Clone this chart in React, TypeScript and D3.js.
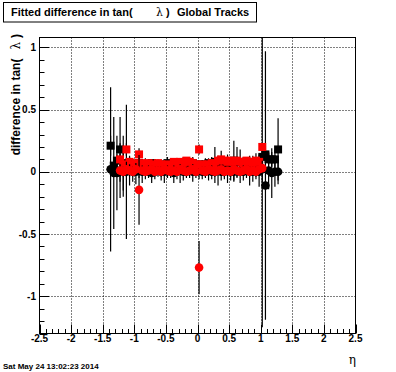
import * as d3 from 'd3';

// eta bin centres
const eta = [
  -1.375, -1.325, -1.275, -1.225, -1.175, -1.125, -1.075, -1.025, -0.975, -0.925,
  -0.875, -0.825, -0.775, -0.725, -0.675, -0.625, -0.575, -0.525, -0.475, -0.425,
  -0.375, -0.325, -0.275, -0.225, -0.175, -0.125, -0.075, -0.025, 0.025, 0.075,
  0.125, 0.175, 0.225, 0.275, 0.325, 0.375, 0.425, 0.475, 0.525, 0.575,
  0.625, 0.675, 0.725, 0.775, 0.825, 0.875, 0.925, 0.975, 1.025, 1.075,
  1.125, 1.175, 1.225, 1.275,
];

// black squares
const blackSq = [
  0.21, 0.05, 0.09, 0.18, 0.07, 0.06, 0.07, 0.05, 0.06, 0.07,
  0.05, 0.06, 0.05, 0.07, 0.06, 0.05, 0.06, 0.05, 0.07, 0.06,
  0.05, 0.06, 0.04, 0.06, 0.05, 0.06, 0.07, 0.05, 0.06, 0.05,
  0.06, 0.07, 0.06, 0.08, 0.06, 0.07, 0.06, 0.08, 0.07, 0.09,
  0.08, 0.08, 0.07, 0.06, 0.07, 0.08, 0.07, 0.08, 0.12, 0.14,
  0.10, 0.10, 0.10, 0.18,
];
const blackSqErr = [
  0.08, 0.06, 0.05, 0.26, 0.22, 0.05, 0.04, 0.05, 0.03, 0.04,
  0.03, 0.05, 0.04, 0.03, 0.04, 0.05, 0.03, 0.04, 0.05, 0.03,
  0.04, 0.03, 0.05, 0.06, 0.04, 0.03, 0.05, 0.04, 0.03, 0.04,
  0.05, 0.04, 0.06, 0.12, 0.05, 0.10, 0.04, 0.06, 0.05, 0.16,
  0.12, 0.10, 0.05, 0.04, 0.06, 0.05, 0.08, 0.06, 0.07, 0.07,
  0.05, 0.06, 0.08, 0.25,
];

// black circles
const blackCi = [
  0.02, -0.01, -0.01, 0.01, 0.00, 0.00, 0.01, 0.00, 0.00, 0.01,
  0.00, 0.01, 0.00, -0.01, 0.00, 0.01, 0.00, 0.00, 0.01, 0.00,
  -0.01, 0.00, 0.01, 0.00, 0.00, 0.01, 0.00, 0.00, 0.01, 0.00,
  0.00, 0.01, 0.00, 0.00, 0.01, 0.00, 0.00, 0.01, 0.00, 0.00,
  0.01, 0.00, 0.00, 0.01, 0.00, 0.00, 0.01, 0.00, 0.02, -0.11,
  0.01, -0.01, 0.00, 0.00,
];
const blackCiErr = [
  0.66, 0.45, 0.30, 0.22, 0.20, 0.54, 0.12, 0.08, 0.10, 0.06,
  0.09, 0.07, 0.05, 0.08, 0.06, 0.05, 0.07, 0.09, 0.06, 0.05,
  0.08, 0.06, 0.10, 0.07, 0.05, 0.06, 0.08, 0.05, 0.07, 0.06,
  0.05, 0.08, 0.06, 0.09, 0.12, 0.07, 0.06, 0.10, 0.07, 0.08,
  0.06, 0.09, 0.07, 0.06, 0.11, 0.08, 0.07, 0.12, 0.10, 1.08,
  0.15, 0.20, 0.12, 0.10,
];

// red squares
const redSq = [
  null, null, null, 0.10, 0.06, 0.18, 0.08, 0.06, 0.07, 0.14,
  0.07, 0.06, 0.07, 0.05, 0.06, 0.07, 0.06, 0.05, 0.06, 0.05,
  0.08, 0.07, 0.08, 0.07, 0.09, 0.08, 0.07, 0.06, 0.18, 0.06,
  0.05, 0.06, 0.07, 0.06, 0.09, 0.10, 0.09, 0.08, 0.09, 0.08,
  0.09, 0.08, 0.07, 0.09, 0.08, 0.07, 0.09, 0.08, 0.20, null,
  null, null, null, null,
];
const redSqErr = [
  null, null, null, 0.04, 0.03, 0.05, 0.04, 0.03, 0.03, 0.05,
  0.03, 0.02, 0.03, 0.02, 0.03, 0.02, 0.03, 0.02, 0.03, 0.02,
  0.03, 0.02, 0.03, 0.02, 0.03, 0.02, 0.03, 0.02, 0.04, 0.02,
  0.03, 0.02, 0.03, 0.02, 0.03, 0.02, 0.03, 0.02, 0.03, 0.02,
  0.03, 0.02, 0.03, 0.02, 0.03, 0.02, 0.03, 0.02, 1.45, null,
  null, null, null, null,
];

// red circles
const redCi = [
  null, null, null, 0.01, 0.00, 0.02, 0.01, 0.00, 0.02, -0.145,
  0.01, 0.00, 0.01, 0.02, 0.00, 0.01, 0.00, 0.02, 0.01, 0.00,
  0.01, 0.00, 0.02, 0.01, 0.00, 0.01, 0.02, 0.00, -0.77, 0.01,
  0.00, 0.02, 0.01, 0.00, 0.01, 0.02, 0.00, 0.01, 0.00, 0.02,
  0.01, 0.00, 0.01, 0.02, 0.00, 0.01, 0.00, 0.02, 0.03, null,
  null, null, null, null,
];
const redCiErr = [
  null, null, null, 0.05, 0.04, 0.06, 0.05, 0.04, 0.05, 0.28,
  0.04, 0.03, 0.04, 0.03, 0.04, 0.03, 0.04, 0.03, 0.04, 0.03,
  0.04, 0.03, 0.04, 0.03, 0.04, 0.03, 0.04, 0.03, 0.214, 0.03,
  0.04, 0.03, 0.04, 0.03, 0.04, 0.03, 0.04, 0.03, 0.04, 0.03,
  0.04, 0.03, 0.04, 0.03, 0.04, 0.03, 0.04, 0.03, 0.06, null,
  null, null, null, null,
];

const xMajor = [-2.5, -2, -1.5, -1, -0.5, 0, 0.5, 1, 1.5, 2, 2.5];
const xTickLabels = ['-2.5', '-2', '-1.5', '-1', '-0.5', '0', '0.5', '1', '1.5', '2', '2.5'];
const yMajor = [-1, -0.5, 0, 0.5, 1];
const yTickLabels = ['-1', '-0.5', '0', '0.5', '1'];

const W = 396;
const H = 372;
const FONT = '"Liberation Sans", Arial, Helvetica, sans-serif';
const SYM = '"DejaVu Serif", "Liberation Serif", serif';

const x = d3.scaleLinear().domain([-2.5, 2.5]).range([39.5, 355.5]);
const y = d3.scaleLinear().domain([-1.3, 1.08]).range([333.5, 37.5]);

type Series = { vals: (number | null)[]; errs: (number | null)[]; color: string; shape: 'sq' | 'ci' };

const series: Series[] = [
  { vals: blackSq, errs: blackSqErr, color: '#000000', shape: 'sq' },
  { vals: blackCi, errs: blackCiErr, color: '#000000', shape: 'ci' },
  { vals: redSq, errs: redSqErr, color: '#ff0000', shape: 'sq' },
  { vals: redCi, errs: redCiErr, color: '#ff0000', shape: 'ci' },
];

export default function App() {
  const [x0, x1] = x.range();
  const [yb, yt] = y.range();
  const xMinor = d3.range(-25, 26).map((i) => i / 10);
  const yMinor = d3.range(-13, 11).map((i) => i / 10);

  return (
    <svg width={W} height={H} style={{ position: 'absolute', left: 0, top: 0, background: '#fff' }}
      fontFamily={FONT} fontWeight="bold">
      <defs>
        <clipPath id="plotClip">
          <rect x={x0} y={yt} width={x1 - x0} height={yb - yt} />
        </clipPath>
      </defs>
      <rect x={0} y={0} width={W} height={H} fill="#fff" />

      {/* grid */}
      <g stroke="#000" strokeWidth={1} strokeDasharray="1,2">
        {xMajor.slice(1, -1).map((v) => (
          <line key={'gx' + v} x1={Math.round(x(v)) + 0.5} x2={Math.round(x(v)) + 0.5} y1={yt} y2={yb} />
        ))}
        {yMajor.map((v) => (
          <line key={'gy' + v} x1={x0} x2={x1} y1={Math.round(y(v)) + 0.5} y2={Math.round(y(v)) + 0.5} />
        ))}
      </g>

      {/* data */}
      <g clipPath="url(#plotClip)">
        {series.map((s, si) => (
          <g key={si}>
            <g stroke="#000" strokeWidth={1.2}>
              {s.vals.map((v, i) =>
                v == null || s.errs[i] == null ? null : (
                  <line key={i} x1={x(eta[i])} x2={x(eta[i])}
                    y1={y(v - (s.errs[i] as number))} y2={y(v + (s.errs[i] as number))} />
                ))}
            </g>
            <g fill={s.color}>
              {s.vals.map((v, i) =>
                v == null ? null : s.shape === 'sq' ? (
                  <rect key={i} x={x(eta[i]) - 4} y={y(v) - 4} width={8} height={8} />
                ) : (
                  <circle key={i} cx={x(eta[i])} cy={y(v)} r={4.3} />
                ))}
            </g>
          </g>
        ))}
      </g>

      {/* frame */}
      <rect x={x0} y={yt} width={x1 - x0} height={yb - yt} fill="none" stroke="#000" strokeWidth={1} />

      {/* ticks */}
      <g stroke="#000" strokeWidth={1}>
        {xMinor.map((v) => {
          const major = Math.abs(v * 2 - Math.round(v * 2)) < 1e-6;
          const px = Math.round(x(v)) + 0.5;
          return <line key={'tx' + v} x1={px} x2={px} y1={yb} y2={yb - (major ? 9 : 4.5)} />;
        })}
        {yMinor.map((v) => {
          const major = Math.abs(v * 2 - Math.round(v * 2)) < 1e-6;
          const py = Math.round(y(v)) + 0.5;
          return <line key={'ty' + v} x1={x0} x2={x0 + (major ? 9.5 : 5)} y1={py} y2={py} />;
        })}
      </g>

      {/* tick labels */}
      <g fontSize={10} fill="#000">
        {xMajor.map((v, i) => (
          <text key={'lx' + v} x={x(v)} y={342} textAnchor="middle">{xTickLabels[i]}</text>
        ))}
        {yMajor.map((v, i) => (
          <text key={'ly' + v} x={36} y={y(v) + 3.6} textAnchor="end">{yTickLabels[i]}</text>
        ))}
      </g>

      {/* title box */}
      <rect x={3.5} y={2.5} width={253} height={19.5} fill="#fff" stroke="#000" strokeWidth={1} />
      <text x={11} y={16} fontSize={11} fill="#000">
        Fitted difference in tan(
        <tspan x={156} fontFamily={SYM} fontWeight="normal" fontSize={11}>λ</tspan>
        <tspan x={166}>)</tspan>
        <tspan x={177}>Global Tracks</tspan>
      </text>

      {/* axis titles */}
      <text transform="translate(20,34) rotate(-90)" textAnchor="end" fontSize={12} fill="#000">
        difference in tan(
        <tspan dx={9} fontFamily={SYM} fontWeight="normal">λ</tspan>
        <tspan dx={4}>)</tspan>
      </text>
      <text x={356} y={364} textAnchor="end" fontFamily={SYM} fontWeight="normal" fontSize={12} fill="#000">η</text>

      {/* date */}
      <text x={3} y={369} fontSize={8} fill="#000">Sat May 24 13:02:23 2014</text>
    </svg>
  );
}
